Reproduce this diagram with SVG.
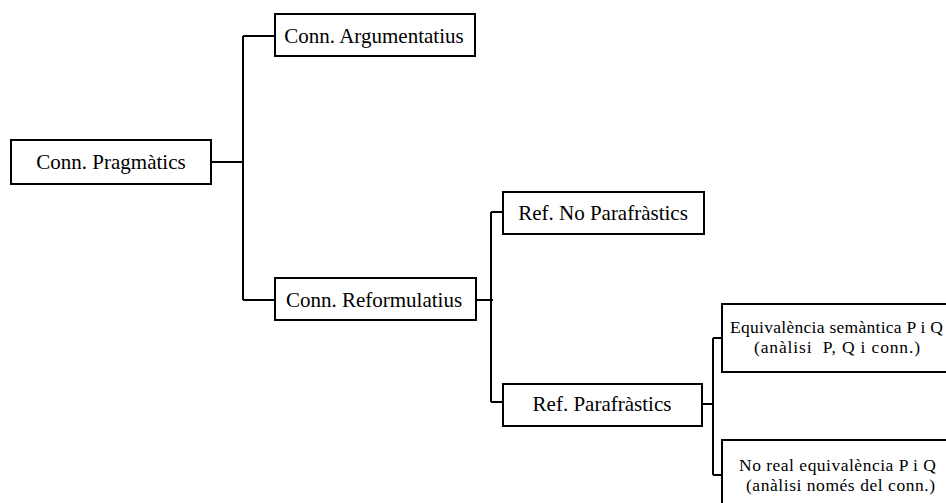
<svg xmlns="http://www.w3.org/2000/svg" width="946" height="503" viewBox="0 0 946 503">
  <style>
    .box { fill: #ffffff; stroke: #000000; stroke-width: 2; }
    .conn { fill: none; stroke: #000000; stroke-width: 2; }
    .lbl { font-family: "Liberation Serif", "Times New Roman", serif; font-size: 21px; fill: #000000; }
    .sm { font-family: "Liberation Serif", "Times New Roman", serif; font-size: 17.5px; fill: #000000; }
  </style>
  <rect width="946" height="503" fill="#ffffff"/>

  <!-- tree connectors -->
  <g id="connectors">
    <path class="conn" d="M211,162 H243 M243,36 V300 M243,36 H275 M243,300 H275"/>
    <path class="conn" d="M476,300 H493 M491,212 V402 M491,212 H503 M491,402 H503"/>
    <path class="conn" d="M702,404 H713 M713,338 V475 M713,338 H722 M713,475 H722"/>
  </g>

  <g id="pragmatics">
    <rect class="box" x="11" y="140" width="200" height="44"/>
    <text class="lbl" x="111" y="169" text-anchor="middle">Conn. Pragmàtics</text>
  </g>

  <g id="argumentatius">
    <rect class="box" x="275" y="14" width="200" height="42"/>
    <text class="lbl" x="374" y="43" text-anchor="middle">Conn. Argumentatius</text>
  </g>

  <g id="reformulatius">
    <rect class="box" x="275" y="278" width="201" height="42"/>
    <text class="lbl" x="374" y="307" text-anchor="middle">Conn. Reformulatius</text>
  </g>

  <g id="no-parafrastics">
    <rect class="box" x="503" y="192" width="201" height="42"/>
    <text class="lbl" x="603" y="220" text-anchor="middle">Ref. No Parafràstics</text>
  </g>

  <g id="parafrastics">
    <rect class="box" x="503" y="384" width="199" height="42"/>
    <text class="lbl" x="602" y="411" text-anchor="middle">Ref. Parafràstics</text>
  </g>

  <g id="equivalencia">
    <rect class="box" x="722" y="304" width="240" height="68"/>
    <text class="sm" x="730" y="333" textLength="213" lengthAdjust="spacing">Equivalència semàntica P i Q</text>
    <text class="sm" x="754" y="353" textLength="166" lengthAdjust="spacing" xml:space="preserve">(anàlisi  P, Q i conn.)</text>
  </g>

  <g id="no-real">
    <rect class="box" x="722" y="440" width="240" height="80"/>
    <text class="sm" x="739" y="471" textLength="197" lengthAdjust="spacing">No real equivalència P i Q</text>
    <text class="sm" x="746" y="491" textLength="189" lengthAdjust="spacing">(anàlisi només del conn.)</text>
  </g>
</svg>
